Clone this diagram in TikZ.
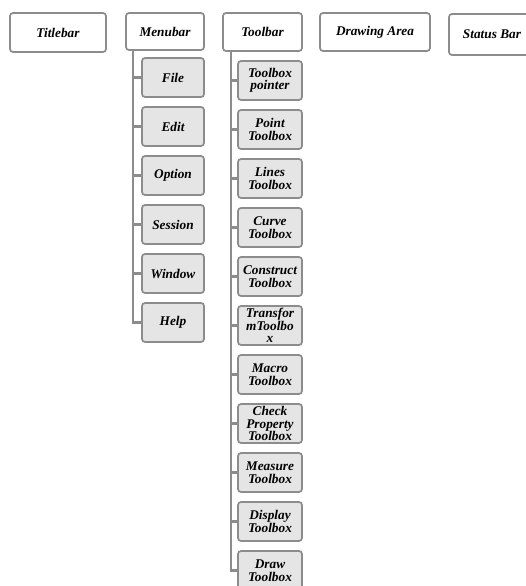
\documentclass[tikz,border=0pt]{standalone}
\usepackage{fontspec}
\setmainfont{Liberation Serif}
\begin{document}
\begin{tikzpicture}[x=1pt,y=-1pt,
  every node/.style={font=\bfseries\itshape\fontsize{13.3}{12.5}\selectfont, align=center, inner sep=0pt},
  topbox/.style={draw=black!45, line width=1.7pt, rounded corners=3pt, fill=white},
  childbox/.style={draw=black!45, line width=1.7pt, rounded corners=3pt, fill=black!10, minimum height=39pt},
  mchild/.style={childbox, minimum width=62pt},
  tchild/.style={childbox, minimum width=64pt, text width=62pt},
  link/.style={draw=black!45, line width=2.3pt}
]
\useasboundingbox (0,0) rectangle (526,586);

% top level
\node[topbox, minimum width=96pt, minimum height=39pt] (title) at (58,32.5) {Titlebar};
\node[topbox, minimum width=78pt, minimum height=37pt] (menu) at (165,31.5) {Menubar};
\node[topbox, minimum width=79pt, minimum height=38pt] (tool) at (262.5,32) {Toolbar};
\node[topbox, minimum width=110pt, minimum height=38pt] (draw) at (375,32) {Drawing Area};
\node[topbox, minimum width=86pt, minimum height=41pt] (status) at (492,34.5) {Status Bar};

% menu children
\node[mchild] (file) at (173,77.5) {File};
\node[mchild] (edit) at (173,126.5) {Edit};
\node[mchild] (option) at (173,175.5) {Option};
\node[mchild] (session) at (173,224.5) {Session};
\node[mchild] (window) at (173,273.5) {Window};
\node[mchild] (help) at (173,322.5) {Help};

% toolbar children
\node[tchild] (t1) at (270,80.5) {Toolbox\\pointer};
\node[tchild] (t2) at (270,129.5) {Point\\Toolbox};
\node[tchild] (t3) at (270,178.5) {Lines\\Toolbox};
\node[tchild] (t4) at (270,227.5) {Curve\\Toolbox};
\node[tchild] (t5) at (270,276.5) {Construct\\Toolbox};
\node[tchild] (t6) at (270,325.5) {Transfor\\mToolbo\\x};
\node[tchild] (t7) at (270,374.5) {Macro\\Toolbox};
\node[tchild] (t8) at (270,423.5) {Check\\Property\\Toolbox};
\node[tchild] (t9) at (270,472.5) {Measure\\Toolbox};
\node[tchild] (t10) at (270,521.5) {Display\\Toolbox};
\node[tchild] (t11) at (270,570.5) {Draw\\Toolbox};

% menu connectors
\coordinate (mtop) at (133,50);
\draw[link] (mtop) |- (help.west);
\foreach \c in {file,edit,option,session,window}
  \draw[link] (mtop |- \c.west) -- (\c.west);

% toolbar connectors
\coordinate (ttop) at (231,51);
\draw[link] (ttop) |- (t11.west);
\foreach \c in {t1,t2,t3,t4,t5,t6,t7,t8,t9,t10}
  \draw[link] (ttop |- \c.west) -- (\c.west);
\end{tikzpicture}
\end{document}
